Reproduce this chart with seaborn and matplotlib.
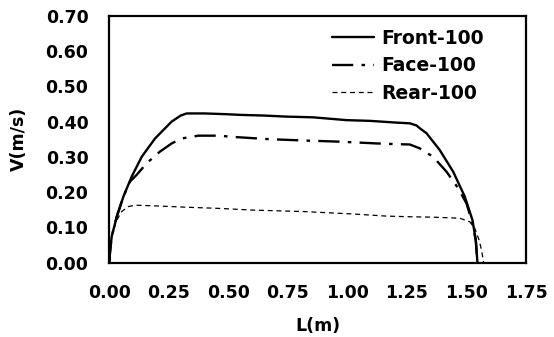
import matplotlib
matplotlib.use("Agg")
import matplotlib.pyplot as plt
import seaborn as sns
import pandas as pd

# Velocity profiles along the length L for three measurement planes
front_x = [0, 0.003, 0.01, 0.031, 0.059, 0.094, 0.136, 0.192, 0.262, 0.30, 0.325, 0.40,
           0.486, 0.548, 0.65, 0.744, 0.856, 0.996, 1.094, 1.206, 1.262, 1.29, 1.304,
           1.332, 1.388, 1.444, 1.493, 1.525, 1.539, 1.546]
front_v = [0, 0.03, 0.074, 0.13, 0.187, 0.244, 0.30, 0.352, 0.40, 0.417, 0.423, 0.423,
           0.421, 0.419, 0.417, 0.414, 0.412, 0.404, 0.402, 0.397, 0.395, 0.389, 0.381,
           0.367, 0.319, 0.258, 0.187, 0.121, 0.064, 0.0]

face_x = [0, 0.003, 0.01, 0.031, 0.059, 0.087, 0.115, 0.157, 0.213, 0.262, 0.304,
          0.374, 0.465, 0.507, 0.674, 0.828, 0.968, 1.122, 1.206, 1.262, 1.304,
          1.36, 1.416, 1.465, 1.50, 1.521, 1.539, 1.546]
face_v = [0, 0.03, 0.074, 0.13, 0.187, 0.23, 0.249, 0.282, 0.315, 0.338, 0.352,
          0.36, 0.36, 0.357, 0.35, 0.346, 0.343, 0.338, 0.336, 0.335, 0.324,
          0.30, 0.258, 0.211, 0.168, 0.121, 0.064, 0.0]

rear_x = [0, 0.003, 0.01, 0.031, 0.052, 0.08, 0.108, 0.192, 0.332, 0.457, 0.604,
          0.814, 1.024, 1.164, 1.276, 1.36, 1.472, 1.514, 1.535, 1.553, 1.563, 1.572]
rear_v = [0, 0.03, 0.074, 0.12, 0.145, 0.159, 0.163, 0.161, 0.157, 0.154, 0.149,
          0.145, 0.138, 0.132, 0.13, 0.129, 0.126, 0.116, 0.097, 0.064, 0.036, 0.0]

series_names = ["Front-100", "Face-100", "Rear-100"]
x_ticks = [0.00, 0.25, 0.50, 0.75, 1.00, 1.25, 1.50, 1.75]
y_ticks = [0.00, 0.10, 0.20, 0.30, 0.40, 0.50, 0.60, 0.70]

sns.set_theme(style="white")
plt.rcParams["font.family"] = ["DejaVu Sans"]
plt.rcParams["font.weight"] = "bold"
plt.rcParams["text.color"] = "black"
plt.rcParams["axes.labelcolor"] = "black"

fig = plt.figure(figsize=(5.54, 3.37), dpi=100)
ax = fig.add_axes([0.1973, 0.2205, 0.7522, 0.7329])

frames = [
    pd.DataFrame({"L": front_x, "V": front_v}),
    pd.DataFrame({"L": face_x, "V": face_v}),
    pd.DataFrame({"L": rear_x, "V": rear_v}),
]
styles = [
    dict(linestyle="-", linewidth=1.7),
    dict(linestyle=(0, (9, 3.5, 1.5, 3.5)), linewidth=1.7),
    dict(linestyle=(0, (4, 3)), linewidth=0.9),
]
for df, name, st in zip(frames, series_names, styles):
    sns.lineplot(data=df, x="L", y="V", ax=ax, color="black", label=name,
                 sort=False, estimator=None, **st)

ax.set_xlim(0, 1.75)
ax.set_ylim(0, 0.70)
ax.set_xticks(x_ticks)
ax.set_yticks(y_ticks)
ax.set_xticklabels([f"{t:.2f}" for t in x_ticks], fontsize=12.5, fontweight="bold")
ax.set_yticklabels([f"{t:.2f}" for t in y_ticks], fontsize=12.5, fontweight="bold")
ax.tick_params(axis="both", length=0, pad=15, colors="black")

ax.set_xlabel("L(m)", fontsize=12.5, fontweight="bold", labelpad=11, color="black")
ax.set_ylabel("V(m/s)", fontsize=12.5, fontweight="bold", labelpad=13, color="black")

for sp in ax.spines.values():
    sp.set_visible(True)
    sp.set_color("black")
    sp.set_linewidth(1.6)

leg = ax.legend(loc="upper right", frameon=False, fontsize=13.5,
                handlelength=2.2, handletextpad=0.4, labelspacing=0.45,
                borderaxespad=0.3, bbox_to_anchor=(0.93, 1.0))
for t in leg.get_texts():
    t.set_fontweight("bold")
    t.set_color("black")

fig.savefig("out.png", dpi=100, facecolor="white")
